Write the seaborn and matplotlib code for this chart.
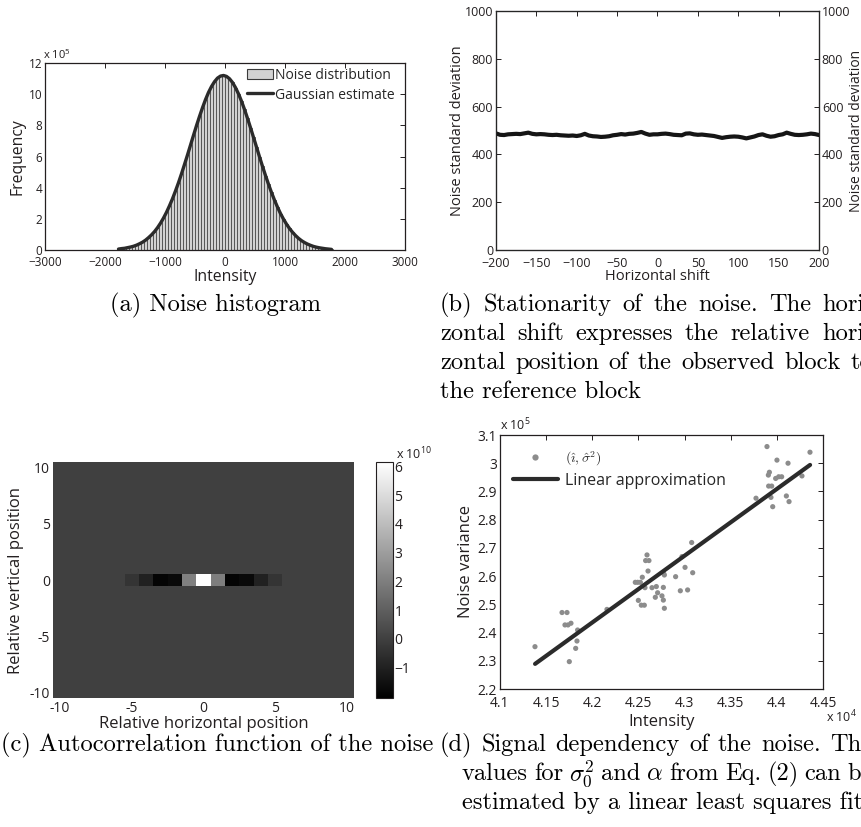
import numpy as np
import pandas as pd

import matplotlib
matplotlib.use('Agg')

from matplotlib import pyplot as plt
from matplotlib.ticker import FuncFormatter
from matplotlib.lines import Line2D
from matplotlib.patches import Patch
import seaborn as sns

# ---------------- values ----------------
# (a) noise histogram: bins of 50 starting at -1800, frequency in units of 1e5
hist_left_edge = -1800
hist_bin_width = 50
hist_freq_e5 = [0.06, 0.09, 0.11, 0.15,
                0.19, 0.24, 0.31, 0.40, 0.50, 0.63, 0.79, 0.97, 1.18, 1.43,
                1.72, 2.05, 2.42, 2.84, 3.29, 3.79, 4.32, 4.89, 5.49, 6.10,
                6.73, 7.36, 7.98, 8.57, 9.13, 9.65, 10.11, 10.49, 10.80, 11.03,
                11.16, 11.20, 11.14, 10.99, 10.75, 10.42, 10.02, 9.55, 9.02, 8.45,
                7.85, 7.23, 6.61, 5.98, 5.37, 4.78, 4.22, 3.69, 3.20, 2.75,
                2.34, 1.98, 1.66, 1.38, 1.14, 0.93, 0.75, 0.60, 0.48, 0.38,
                0.30, 0.23, 0.18, 0.14,
                0.11, 0.08, 0.06, 0.04]

# (b) noise std vs horizontal shift
shift = list(range(-200, 201, 5))
noise_std = [488, 482, 481, 484, 485, 486, 485, 488, 491, 486,
             484, 485, 484, 482, 481, 482, 480, 479, 478, 479,
             477, 480, 486, 479, 476, 475, 473, 474, 476, 480,
             482, 485, 483, 486, 487, 490, 494, 487, 482, 484,
             484, 486, 487, 485, 482, 481, 480, 487, 488, 484,
             482, 483, 481, 479, 477, 473, 469, 472, 474, 475,
             474, 471, 467, 471, 475, 481, 484, 478, 474, 476,
             481, 484, 491, 486, 482, 481, 482, 484, 487, 485, 481]

# (c) autocorrelation: only the centre row differs from zero (units of 1e10)
acf_offsets = list(range(-10, 11))
acf_row_e10 = [0, 0, 0, 0, 0, -0.38, -0.98, -1.9, -1.75, 2.05, 6.1,
               2.0, -1.9, -1.75, -0.98, -0.38, 0, 0, 0, 0, 0]

# (d) signal dependency: intensity (1e4) vs noise variance (1e5)
intensity_e4 = [4.1379, 4.1672, 4.1726, 4.1704, 4.1737, 4.1769, 4.1751, 4.1820,
                4.1834, 4.1841, 4.2159, 4.2466, 4.2492, 4.2521, 4.2542, 4.2499,
                4.2531, 4.2564, 4.2571, 4.2578, 4.2593, 4.2614, 4.2604, 4.2647,
                4.2683, 4.2694, 4.2708, 4.2755, 4.2770, 4.2770, 4.2781, 4.2781,
                4.2773, 4.2903, 4.2954, 4.2972, 4.3005, 4.3033, 4.3077, 4.3088,
                4.3774, 4.3893, 4.3908, 4.3919, 4.3911, 4.3944, 4.3936, 4.3955,
                4.4001, 4.3987, 4.4020, 4.4052, 4.4103, 4.4121, 4.4132, 4.4272,
                4.4359]
variance_e5 = [2.350, 2.471, 2.471, 2.427, 2.427, 2.433, 2.297, 2.344,
               2.370, 2.409, 2.482, 2.578, 2.578, 2.578, 2.596, 2.514,
               2.497, 2.497, 2.559, 2.655, 2.675, 2.655, 2.618, 2.559,
               2.525, 2.563, 2.541, 2.530, 2.560, 2.515, 2.486, 2.604,
               2.610, 2.598, 2.548, 2.669, 2.631, 2.551, 2.719, 2.612,
               2.876, 3.059, 2.958, 2.968, 2.919, 2.919, 2.879, 2.846,
               3.011, 2.946, 2.952, 2.952, 2.884, 3.000, 2.864, 2.955,
               3.039]
fit_intensity_e4 = [4.138, 4.436]
fit_variance_e5 = [2.289, 2.994]

# ---------------- style ----------------
sns.set_style('white')
plt.rcParams['font.family'] = ['Open Sans', 'DejaVu Sans']
plt.rcParams['mathtext.fontset'] = 'custom'
plt.rcParams['mathtext.rm'] = 'Open Sans'
plt.rcParams['mathtext.it'] = 'Open Sans:italic'
plt.rcParams['axes.unicode_minus'] = True

INK = '#231f20'
W, H = 862, 827
CAPTION = dict(color='black', family='cmr10', fontsize=17.6, va='center',
               math_fontfamily='cm')


def rect(l, t, r, b):
    return [l / W, 1 - b / H, (r - l) / W, (b - t) / H]


def matlab_axes(ax, size, right=True, xpad=2):
    ax.tick_params(direction='in', top=True, right=right, length=3.5, width=0.7,
                   labelsize=size, colors=INK, pad=2)
    ax.tick_params(axis='x', pad=xpad)
    for sp in ax.spines.values():
        sp.set_visible(True)
        sp.set_linewidth(0.9)
        sp.set_color(INK)


def caption(x, y, s, ha='left'):
    fig.text(x / W, 1 - y / H, s, ha=ha, **CAPTION)


def caption_justified(x, y, s, right):
    # spread the words so the line fills the column, like LaTeX does
    words = s.split(' ')
    texts = [fig.text(0, 1 - y / H, w, ha='left', **CAPTION) for w in words]
    renderer = fig.canvas.get_renderer()
    widths = [t.get_window_extent(renderer).width for t in texts]
    gap = (right - x - sum(widths)) / (len(words) - 1)
    for t, w in zip(texts, widths):
        t.set_x(x / W)
        x += w + gap


fig = plt.figure(figsize=(W / 100, H / 100), dpi=100)

# ---------------- (a) noise histogram ----------------
axa = fig.add_axes(rect(45, 63, 405, 250))
n_bins = len(hist_freq_e5)
hist_right_edge = hist_left_edge + n_bins * hist_bin_width
hist_df = pd.DataFrame({'intensity': hist_left_edge + hist_bin_width * (np.arange(n_bins) + 0.5),
                        'count': np.array(hist_freq_e5) * 1e5})
sns.histplot(data=hist_df, x='intensity', weights='count', bins=n_bins,
             binrange=(hist_left_edge, hist_right_edge),
             color='#d2d2d2', edgecolor='#3a3a3a', linewidth=0.5, alpha=1, ax=axa)
sns.lineplot(data=hist_df, x='intensity', y='count', color='#2b2b2b',
             linewidth=2.4, ax=axa)
axa.set_xlim(-3000, 3000)
axa.set_ylim(0, 12e5)
axa.set_xticks(range(-3000, 3001, 1000))
axa.set_yticks(np.arange(0, 12.1e5, 2e5))
axa.yaxis.set_major_formatter(FuncFormatter(lambda v, p: f'{v / 1e5:g}'))
matlab_axes(axa, 8.5, xpad=4)
axa.set_xlabel('Intensity', fontsize=11.3, color=INK, labelpad=0)
axa.set_ylabel('Frequency', fontsize=11.3, color=INK, labelpad=2)
axa.text(-0.005, 1.005, r'x 10$^5$', transform=axa.transAxes, fontsize=8,
         color=INK, ha='left', va='bottom')
axa.legend([Patch(facecolor='#d2d2d2', edgecolor='#3a3a3a', lw=0.8),
            Line2D([], [], color='#2b2b2b', lw=2.4)],
           ['Noise distribution', 'Gaussian estimate'],
           loc='upper left', bbox_to_anchor=(0.561, 0.975), frameon=False,
           fontsize=10, handlelength=1.9, handleheight=0.8, handletextpad=0.15,
           labelspacing=0.35, borderpad=0, borderaxespad=0)

# ---------------- (b) stationarity ----------------
axb = fig.add_axes(rect(496, 11, 819, 250))
sns.lineplot(x=shift, y=noise_std, color='#151515', linewidth=3, ax=axb)
axb.set_xlim(-200, 200)
axb.set_ylim(0, 1000)
axb.set_xticks(range(-200, 201, 50))
axb.set_yticks(range(0, 1001, 200))
matlab_axes(axb, 9, right=False, xpad=5)
axb.set_xlabel('Horizontal shift', fontsize=10.5, color=INK, labelpad=-1)
axb.set_ylabel('Noise standard deviation', fontsize=10.5, color=INK, labelpad=0)
axb2 = axb.twinx()
axb2.set_ylim(0, 1000)
axb2.set_yticks(range(0, 1001, 200))
axb2.tick_params(direction='in', length=3.5, width=0.7, labelsize=9, colors=INK, pad=2)
axb2.set_ylabel('Noise standard deviation', fontsize=10, color=INK, labelpad=-1)

# ---------------- (c) autocorrelation ----------------
axc = fig.add_axes(rect(53, 462, 354, 698))
cax = fig.add_axes(rect(376, 462, 393, 698))
acf = np.zeros((len(acf_offsets), len(acf_offsets)))
acf[len(acf_offsets) // 2] = np.array(acf_row_e10) * 1e10
acf_df = pd.DataFrame(acf, index=acf_offsets[::-1], columns=acf_offsets)
sns.heatmap(acf_df, cmap='gray', vmin=-2.05e10, vmax=6.15e10, ax=axc, cbar_ax=cax,
            xticklabels=False, yticklabels=False, linewidths=0)
tick_pos = [0.5, 5.5, 10.5, 15.5, 20.5]
axc.set_xticks(tick_pos)
axc.set_xticklabels(['-10', '-5', '0', '5', '10'], rotation=0)
axc.set_yticks(tick_pos)
axc.set_yticklabels(['10', '5', '0', '-5', '-10'], rotation=0)
axc.tick_params(length=0, labelsize=10, colors=INK, pad=2)
axc.set_xlabel('Relative horizontal position', fontsize=12, color=INK, labelpad=0)
axc.set_ylabel('Relative vertical position', fontsize=12, color=INK, labelpad=4)
cbar = axc.collections[0].colorbar
cbar.set_ticks(np.arange(-1, 7) * 1e10)
cbar.set_ticklabels(['\u22121', '0', '1', '2', '3', '4', '5', '6'])
cbar.ax.tick_params(direction='in', left=True, right=True, length=3, width=0.6,
                    labelsize=10, colors=INK, pad=1)
cbar.outline.set_linewidth(0.8)
cbar.outline.set_edgecolor(INK)
cax.text(1.15, 1.0, r'x 10$^{10}$', transform=cax.transAxes, fontsize=9,
         color=INK, ha='left', va='bottom')

# ---------------- (d) signal dependency ----------------
axd = fig.add_axes(rect(500, 435, 823, 689))
sns.scatterplot(x=np.array(intensity_e4) * 1e4, y=np.array(variance_e5) * 1e5,
                color='#8c8c8c', s=14, edgecolor='none', ax=axd)
sns.lineplot(x=np.array(fit_intensity_e4) * 1e4, y=np.array(fit_variance_e5) * 1e5,
             color='#2b2b2b', linewidth=3, ax=axd)
axd.set_xlim(41000, 44500)
axd.set_ylim(220000, 310000)
axd.set_xticks(range(41000, 44501, 500))
axd.set_yticks(range(220000, 310001, 10000))
axd.xaxis.set_major_formatter(FuncFormatter(lambda v, p: f'{v / 1e4:g}'))
axd.yaxis.set_major_formatter(FuncFormatter(lambda v, p: f'{v / 1e5:g}'))
matlab_axes(axd, 10, xpad=5)
axd.set_xlabel('Intensity', fontsize=12, color=INK, labelpad=2)
axd.set_ylabel('Noise variance', fontsize=12, color=INK, labelpad=3)
axd.text(0.0, 1.005, r'x 10$^5$', transform=axd.transAxes, fontsize=9,
         color=INK, ha='left', va='bottom')
axd.text(1.01, -0.11, r'x 10$^4$', transform=axd.transAxes, fontsize=9,
         color=INK, ha='left', va='center')
leg = axd.legend([Line2D([], [], ls='none', marker='o', markersize=4.5,
                         markerfacecolor='#8c8c8c', markeredgecolor='none'),
                  Line2D([], [], color='#2b2b2b', lw=3)],
                 [r'$(\hat{\imath},\hat{\sigma}^2)$', 'Linear approximation'],
                 loc='upper left', bbox_to_anchor=(0.04, 0.943), frameon=False,
                 fontsize=11.5, handlelength=2.8, handletextpad=0.45,
                 labelspacing=0.3, borderpad=0, borderaxespad=0)
leg.get_texts()[0].set_math_fontfamily('cm')
leg.get_texts()[0].set_fontsize(10)

# ---------------- captions ----------------
col_right = 872
caption(216, 305, '(a) Noise histogram', ha='center')
caption_justified(440, 305, '(b) Stationarity of the noise. The hori-', col_right)
caption_justified(440, 334, 'zontal shift expresses the relative hori-', col_right)
caption_justified(440, 363, 'zontal position of the observed block to', col_right)
caption(440, 392, 'the reference block')
caption(1, 745, '(c) Autocorrelation function of the noise')
caption_justified(440, 745, '(d) Signal dependency of the noise. The', col_right)
caption_justified(462, 774, r'values for $\sigma_0^2$ and $\alpha$ from Eq. (2) can be', col_right)
caption(462, 803, 'estimated by a linear least squares fit')

fig.savefig('out.png', dpi=100)
plt.close(fig)
